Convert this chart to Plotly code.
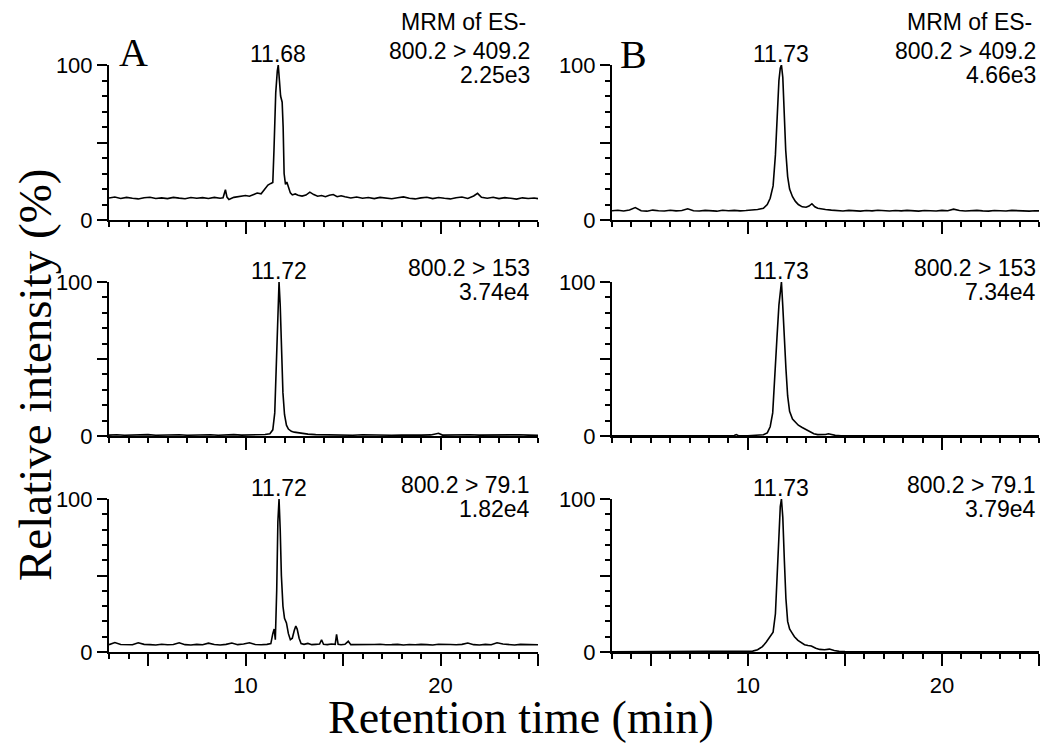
import plotly.graph_objects as go

# ---------------- data ----------------
# Panel A, 800.2 > 409.2
t_a1 = [3.0,3.3,3.6,3.9,4.2,4.5,4.8,5.1,5.4,5.7,6.0,6.3,6.6,6.9,7.2,7.5,7.8,8.1,8.4,8.7,
        8.85,8.97,9.05,9.15,9.4,9.7,10.0,10.2,10.4,10.6,10.8,11.0,11.15,11.3,11.4,11.46,11.55,
        11.63,11.68,11.74,11.8,11.88,11.93,11.98,12.05,12.12,12.2,12.3,12.4,12.55,12.7,12.9,
        13.1,13.3,13.5,13.7,13.9,14.1,14.3,14.5,14.7,14.9,15.1,15.4,15.7,16.0,16.3,16.6,16.9,
        17.2,17.5,17.8,18.1,18.4,18.7,19.0,19.3,19.6,19.9,20.2,20.5,20.8,21.1,21.4,21.7,21.9,
        22.1,22.4,22.7,23.0,23.3,23.6,23.9,24.2,24.5,24.8,25.0]
v_a1 = [14.2,14.8,13.9,14.6,14.0,13.6,14.4,14.7,13.9,14.3,13.8,14.6,14.1,13.7,14.5,14.0,14.4,13.9,14.6,14.0,
        14.3,19.5,14.8,13.2,14.6,15.2,15.8,15.3,16.6,17.4,16.9,19.8,22.5,23.6,24.2,45,82,
        96,100,90,80,76,60,30,23,24.5,21.5,17.5,16.2,16.8,16.0,15.4,
        16.1,18.0,16.4,15.3,15.8,15.0,16.0,16.4,15.0,15.6,15.0,14.2,14.8,14.0,14.5,13.8,14.6,
        14.1,13.7,14.4,14.9,14.0,13.6,14.3,14.7,13.8,14.5,14.0,13.6,14.4,14.8,13.9,15.5,17.2,
        14.6,14.0,14.7,13.8,14.4,14.0,13.5,14.3,13.9,14.2,13.8]

# Panel A, 800.2 > 153
t_a2 = [3.0,3.4,3.8,4.2,4.6,5.0,5.4,5.8,6.2,6.6,7.0,7.4,7.8,8.2,8.6,9.0,9.4,9.8,10.2,10.6,11.0,
        11.25,11.4,11.5,11.58,11.65,11.72,11.78,11.85,11.92,12.0,12.1,12.2,12.35,12.5,12.7,12.9,13.2,13.6,14.0,
        14.5,15.0,15.5,16.0,16.5,17.0,17.5,18.0,18.5,19.0,19.5,19.9,20.1,
        20.5,21.0,21.5,22.0,22.5,23.0,23.5,24.0,24.5,25.0]
v_a2 = [0.6,0.8,0.5,0.7,0.6,0.9,0.5,0.7,0.6,0.8,0.5,0.7,0.6,0.8,0.5,0.7,0.9,0.6,0.7,0.8,1.0,
        1.5,4,15,45,82,100,85,55,28,14,7,4.5,3,2.5,2.0,1.5,1.2,0.9,0.8,
        0.6,0.7,0.5,0.8,0.6,0.7,0.5,0.6,0.8,0.6,0.7,1.8,0.6,
        0.7,0.5,0.8,0.6,0.7,0.5,0.6,0.8,0.6,0.5]

# Panel A, 800.2 > 79.1
t_a3 = [3.0,3.3,3.6,3.9,4.2,4.5,4.8,5.1,5.4,5.7,6.0,6.3,6.6,6.9,7.2,7.5,7.8,8.1,8.4,8.7,9.0,9.3,9.6,9.9,
        10.2,10.5,10.8,11.1,
        11.3,11.4,11.47,11.53,11.6,11.66,11.72,11.78,11.84,11.92,12.0,12.1,12.2,12.3,12.4,12.5,12.58,12.65,
        12.75,12.85,13.0,13.2,13.4,13.6,13.8,13.9,14.0,14.2,14.4,14.6,14.67,14.75,14.9,15.1,15.27,15.4,
        15.7,16.0,16.3,16.6,16.9,17.2,17.5,17.8,18.1,18.4,18.7,19.0,19.3,19.6,19.9,20.2,20.5,20.8,21.1,
        21.4,21.7,22.0,22.3,22.6,22.9,23.2,23.5,23.8,24.1,24.4,24.7,25.0]
v_a3 = [4.8,6.2,4.9,5.0,4.7,6.0,5.0,4.8,4.6,5.1,4.7,4.9,6.0,4.8,4.6,5.0,4.7,5.8,4.9,4.6,5.0,5.9,4.8,5.2,
        6.0,4.9,4.7,5.0,
        5.5,12,15,8,40,85,100,80,50,30,22,19,12,8,9,14,17,15,
        9,5.5,5.0,5.6,4.8,5.0,5.2,8.0,5.0,4.8,5.2,5.0,11.5,5.0,4.7,5.0,7.0,4.8,
        4.8,5.0,4.6,4.9,5.1,4.7,4.8,5.0,4.6,4.9,4.7,5.0,4.8,4.6,5.1,4.8,4.9,4.7,5.0,
        5.9,4.8,4.6,5.0,4.7,6.0,5.2,4.8,4.6,5.0,4.8,4.5,4.7]

# Panel B, 800.2 > 409.2
t_b1 = [3.0,3.3,3.6,3.9,4.2,4.5,4.8,5.1,5.4,5.7,6.0,6.3,6.6,6.9,7.2,7.5,7.8,8.1,8.4,8.7,9.0,9.3,9.6,
        9.9,10.2,10.5,10.8,
        11.0,11.15,11.3,11.42,11.52,11.6,11.67,11.73,11.8,11.87,11.95,12.05,12.15,12.3,12.45,12.6,12.8,
        13.0,13.15,13.3,13.45,13.6,13.8,14.0,
        14.3,14.6,14.9,15.2,15.5,15.8,16.1,16.4,16.7,17.0,17.3,17.6,17.9,18.2,18.5,18.8,19.1,19.4,19.7,
        20.0,20.3,20.6,20.9,21.2,21.5,21.8,22.1,22.4,22.7,23.0,23.3,23.6,23.9,24.2,24.5,24.8,25.0]
v_b1 = [6.0,6.3,5.8,6.5,8.0,6.0,5.7,6.4,6.0,5.8,6.3,5.9,6.1,7.2,6.0,5.8,6.2,6.0,5.7,6.3,6.0,6.2,5.9,
        6.1,6.4,6.8,7.5,
        10,14,22,42,70,90,98,100,92,72,45,28,20,15,12,10,8.5,
        8.2,9,10.5,8.5,7.6,7.0,6.8,
        6.4,6.0,5.8,6.2,6.0,5.7,6.1,5.9,6.3,6.0,5.8,6.1,5.9,6.2,6.0,5.7,6.1,6.0,5.8,
        6.2,6.0,7.0,6.1,5.8,6.0,6.2,5.9,5.7,6.1,6.0,5.8,6.2,6.0,5.9,5.7,6.0,5.9]

# Panel B, 800.2 > 153
t_b2 = [3.0,4.0,5.0,6.0,7.0,8.0,9.0,9.3,9.4,9.5,10.0,10.5,10.8,11.0,11.15,11.28,11.4,11.5,11.6,11.68,
        11.73,11.8,11.88,11.96,12.05,12.15,12.3,12.45,12.6,12.8,13.0,13.2,13.4,13.6,13.8,14.0,14.15,
        14.3,14.5,14.8,15.5,17.0,19.0,21.0,23.0,25.0]
v_b2 = [0.2,0.2,0.2,0.2,0.2,0.2,0.2,0.3,0.9,0.3,0.2,0.4,0.8,2.0,6.0,15,38,64,85,98,
        100,84,60,44,26,16,11,9,7,5.5,4,2.5,1.5,0.9,0.9,1.0,1.4,
        1.0,0.4,0.2,0.2,0.2,0.2,0.2,0.2,0.2]

# Panel B, 800.2 > 79.1
t_b3 = [3.0,4.0,5.0,6.0,7.0,8.0,9.0,10.0,10.25,10.5,10.75,10.95,11.1,11.3,11.42,11.52,11.6,11.67,
        11.73,11.8,11.88,11.96,12.05,12.15,12.25,12.4,12.58,12.75,12.92,13.1,13.27,13.5,13.7,13.95,
        14.2,14.45,14.7,15.0,16.0,17.0,18.0,19.0,19.5,20.0,21.0,22.0,23.0,24.0,25.0]
v_b3 = [0.2,0.2,0.2,0.2,0.2,0.2,0.3,0.3,0.6,1.5,3.5,6.5,9,13,25,50,78,95,
        100,88,60,35,20,15,13,10,7.6,6,4.8,4.3,3.9,2.5,1.7,1.5,
        1.9,1.0,0.4,0.3,0.2,0.2,0.2,0.4,0.2,0.2,0.2,0.2,0.2,0.2,0.2]

peak_times = [11.68, 11.73, 11.72, 11.73, 11.72, 11.73]
peak_labels = ["11.68", "11.73", "11.72", "11.73", "11.72", "11.73"]
transitions = ["800.2 > 409.2", "800.2 > 409.2", "800.2 > 153", "800.2 > 153", "800.2 > 79.1", "800.2 > 79.1"]
intensities = ["2.25e3", "4.66e3", "3.74e4", "7.34e4", "1.82e4", "3.79e4"]
x_major = [5, 10, 15, 20, 25]
x_major_text = ["", "10", "", "20", ""]
y_major = [0, 50, 100]
y_major_text = ["0", "", "100"]

series = [(t_a1, v_a1), (t_b1, v_b1), (t_a2, v_a2), (t_b2, v_b2), (t_a3, v_a3), (t_b3, v_b3)]

# ---------------- layout helpers ----------------
# the page body has an 8px margin, so the figure is drawn 8px right/down
OFF = 8
W, H = 1050 - OFF, 744 - OFF


def fx(p):
    return (p - OFF) / W


def fy(p):
    return 1 - (p - OFF) / H


xdoms = [[fx(109), fx(538)], [fx(612), fx(1039)]]
ydoms = [[fy(220), fy(65)], [fy(436), fy(282)], [fy(652), fy(499)]]
SANS = "Arial, Liberation Sans, sans-serif"
SERIF = "Times New Roman, Liberation Serif, serif"
tickfont = dict(family=SANS, size=22, color="black")
annfont = dict(family=SANS, size=23, color="black")

fig = go.Figure()
layout = dict(
    template="none",
    width=W, height=H, margin=dict(l=0, r=0, t=0, b=0, pad=0, autoexpand=False),
    paper_bgcolor="white", plot_bgcolor="white", showlegend=False,
)

annotations = []
for i, (t, v) in enumerate(series):
    row, col = divmod(i, 2)
    n = i + 1
    xa = "x" if n == 1 else f"x{n}"
    ya = "y" if n == 1 else f"y{n}"
    fig.add_trace(go.Scatter(x=t, y=v, mode="lines", line=dict(color="black", width=1.6),
                             xaxis=xa, yaxis=ya, hoverinfo="skip"))
    xkey = "xaxis" if n == 1 else f"xaxis{n}"
    ykey = "yaxis" if n == 1 else f"yaxis{n}"
    layout[xkey] = dict(
        domain=xdoms[col], anchor=ya, range=[3, 25], showgrid=False, zeroline=False,
        automargin=False, showline=True, linecolor="black", linewidth=2,
        ticks="outside", ticklen=12, tickwidth=1.5, tickcolor="black",
        tickmode="array", tickvals=x_major, ticktext=x_major_text,
        showticklabels=(row == 2), tickfont=tickfont, ticklabelstandoff=1,
        minor=dict(tickmode="linear", tick0=0, dtick=1, ticks="outside", ticklen=5,
                   tickwidth=1.5, tickcolor="black", showgrid=False),
    )
    layout[ykey] = dict(
        domain=ydoms[row], anchor=xa, range=[0, 100], showgrid=False, zeroline=False,
        automargin=False, showline=True, linecolor="black", linewidth=2,
        ticks="outside", ticklen=10, tickwidth=1.5, tickcolor="black",
        tickmode="array", tickvals=y_major, ticktext=y_major_text, tickfont=tickfont,
        minor=dict(tickmode="linear", tick0=0, dtick=10, ticks="outside", ticklen=5,
                   tickwidth=1.5, tickcolor="black", showgrid=False),
    )
    # peak label
    annotations.append(dict(x=peak_times[i], y=100, xref=xa, yref=ya, text=peak_labels[i],
                            showarrow=False, xanchor="center", yanchor="middle", yshift=11,
                            font=annfont))
    # right side labels
    xr = fx(532 if col == 0 else 1038)
    top_px = [65, 282, 499][row]
    annotations.append(dict(x=xr, y=fy(top_px - 14), xref="paper", yref="paper",
                            text=transitions[i], showarrow=False, xanchor="right", yanchor="middle",
                            font=annfont))
    annotations.append(dict(x=xr, y=fy(top_px + 10), xref="paper", yref="paper",
                            text=intensities[i], showarrow=False, xanchor="right", yanchor="middle",
                            font=annfont))
    if row == 0:
        annotations.append(dict(x=xr - 4 / W, y=fy(22), xref="paper", yref="paper",
                                text="MRM of ES-", showarrow=False, xanchor="right", yanchor="middle",
                                font=annfont))

# panel letters
annotations.append(dict(x=fx(133), y=fy(53), xref="paper", yref="paper", text="A", showarrow=False,
                        xanchor="center", yanchor="middle", font=dict(family=SERIF, size=40, color="black")))
annotations.append(dict(x=fx(633), y=fy(54), xref="paper", yref="paper", text="B", showarrow=False,
                        xanchor="center", yanchor="middle", font=dict(family=SERIF, size=40, color="black")))
# axis titles
annotations.append(dict(x=fx(35), y=fy(375), xref="paper", yref="paper", text="Relative intensity (%)",
                        textangle=-90, showarrow=False, xanchor="center", yanchor="middle", borderpad=0,
                        font=dict(family=SERIF, size=47, color="black")))
annotations.append(dict(x=fx(521), y=fy(717), xref="paper", yref="paper", text="Retention time (min)",
                        showarrow=False, xanchor="center", yanchor="middle", borderpad=0,
                        font=dict(family=SERIF, size=46, color="black")))

layout["annotations"] = annotations
fig.update_layout(**layout)
fig.write_html("out.html")
